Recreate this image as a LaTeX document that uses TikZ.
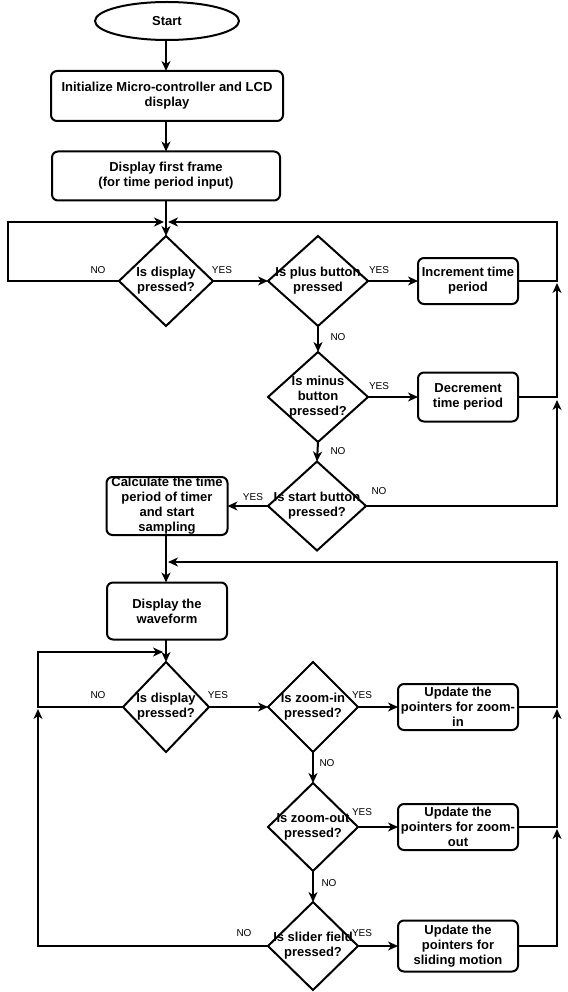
\documentclass[tikz,border=0pt]{standalone}
\usepackage{fontspec}
\setmainfont{Liberation Sans}
\usetikzlibrary{shapes.geometric,arrows.meta}
\begin{document}
\begin{tikzpicture}[x=1pt,y=-1pt,
  every node/.style={inner sep=0pt,outer sep=0pt},
  lw/.style={line width=2pt},
  stepbox/.style={lw,draw,rounded corners=6pt,align=center,font=\bfseries\fontsize{13}{15}\selectfont},
  dec/.style={lw,draw,shape=diamond,inner sep=0pt},
  dtext/.style={align=center,font=\bfseries\fontsize{13}{15}\selectfont},
  term/.style={lw,draw,ellipse,font=\bfseries\fontsize{13}{15}\selectfont},
  arr/.style={lw,-{Stealth[length=10pt,width=9pt,inset=3pt]},line join=miter},
  lab/.style={font=\fontsize{10}{11}\selectfont}
]
\useasboundingbox (0,0) rectangle (567,992);

% top part
\node[term,minimum width=144,minimum height=38] (start) at (167,21) {Start};
\node[stepbox,minimum width=232,minimum height=50] (init) at (167,96) {Initialize Micro-controller and LCD\\display};
\node[stepbox,minimum width=228,minimum height=49] (frame) at (166,176) {Display first frame\\(for time period input)};

\node[dec,minimum width=94,minimum height=90] (d1) at (166,281) {};
\node[dtext] at (d1) {Is display\\pressed?};
\node[dec,minimum width=100,minimum height=90] (d2) at (318,281) {};
\node[dtext] at (d2) {Is plus button\\pressed};
\node[stepbox,minimum width=100,minimum height=46] (inc) at (468,281) {Increment time\\period};

\node[dec,minimum width=100,minimum height=90] (d3) at (318,397) {};
\node[dtext] at (d3) {Is minus\\button\\pressed?};
\node[stepbox,minimum width=100,minimum height=49] (decr) at (468,397) {Decrement\\time period};

\node[dec,minimum width=98,minimum height=89] (d4) at (317,506) {};
\node[dtext] at (d4) {Is start button\\pressed?};
\node[stepbox,minimum width=121,minimum height=58] (calc) at (167,506) {Calculate the time\\period of timer\\and start\\sampling};

% bottom part
\node[stepbox,minimum width=120,minimum height=57] (wave) at (167,611) {Display the\\waveform};

\node[dec,minimum width=86,minimum height=90] (d5) at (166,707) {};
\node[dtext] at (d5) {Is display\\pressed?};
\node[dec,minimum width=90,minimum height=90] (d6) at (313,707) {};
\node[dtext] at (d6) {Is zoom-in\\pressed?};
\node[stepbox,minimum width=120,minimum height=46] (zin) at (458,707) {Update the\\pointers for zoom-\\in};

\node[dec,minimum width=90,minimum height=88] (d7) at (313,827) {};
\node[dtext] at (d7) {Is zoom-out\\pressed?};
\node[stepbox,minimum width=120,minimum height=46] (zout) at (458,827) {Update the\\pointers for zoom-\\out};

\node[dec,minimum width=90,minimum height=88] (d8) at (313,946) {};
\node[dtext] at (d8) {Is slider field\\pressed?};
\node[stepbox,minimum width=120,minimum height=51] (slide) at (458,946) {Update the\\pointers for\\sliding motion};

% coordinates
\coordinate (lA) at (8,222);
\coordinate (jA) at (164,222);
\coordinate (rA) at (557,222);
\coordinate (jB) at (168,222);
\coordinate (rInc) at (557,283);
\coordinate (rDec) at (557,400);
\coordinate (rB) at (557,562);
\coordinate (jC) at (168,562);
\coordinate (lB) at (38,652);
\coordinate (jD) at (163,652);
\coordinate (lNo) at (38,709);
\coordinate (rZin) at (557,709);
\coordinate (rZout) at (557,829);

% connectors top
\draw[arr] (start.south -| frame) -- (init.north -| frame);
\draw[arr] (init.south -| frame) -- (frame.north);
\draw[arr] (frame) -- (d1.north);
\draw[arr] (d1.west) -| (lA) -- (jA);
\draw[arr] (inc.east) -| (rA) -- (jB);
\draw[arr] (d1.east) -- (d2.west);
\draw[arr] (d2.east) -- (inc.west);
\draw[arr] (d2.south) -- (d3.north);
\draw[arr] (d3.east) -- (decr.west);
\draw[arr] (decr.east) -| (rInc);
\draw[arr] (d3.south) -- (d4.north);
\draw[arr] (d4.west) -- (calc.east);
\draw[arr] (d4.east) -| (rDec);

% connectors bottom
\draw[arr] (calc.south -| d5) -- (wave.north -| d5);
\draw[arr] (zin.east) -| (rB) -- (jC);
\draw[arr] (wave.south -| d5) -- (d5.north);
\draw[arr] (d5.west) -| (lB) -- (jD);
\draw[arr] (d5.east) -- (d6.west);
\draw[arr] (d6.east) -- (zin.west);
\draw[arr] (d6.south) -- (d7.north);
\draw[arr] (d7.east) -- (zout.west);
\draw[arr] (zout.east) -| (rZin);
\draw[arr] (d7.south) -- (d8.north);
\draw[arr] (d8.east) -- (slide.west);
\draw[arr] (slide.east) -| (rZout);
\draw[arr] (d8.west) -| (lNo);

% labels
\node[lab] at (98,270) {NO};
\node[lab] at (222,270) {YES};
\node[lab] at (379,270) {YES};
\node[lab] at (338,337) {NO};
\node[lab] at (379,386) {YES};
\node[lab] at (338,451) {NO};
\node[lab] at (253,497) {YES};
\node[lab] at (379,491) {NO};
\node[lab] at (98,695) {NO};
\node[lab] at (218,695) {YES};
\node[lab] at (362,695) {YES};
\node[lab] at (327,763) {NO};
\node[lab] at (362,812) {YES};
\node[lab] at (329,883) {NO};
\node[lab] at (362,933) {YES};
\node[lab] at (244,933) {NO};
\end{tikzpicture}
\end{document}
